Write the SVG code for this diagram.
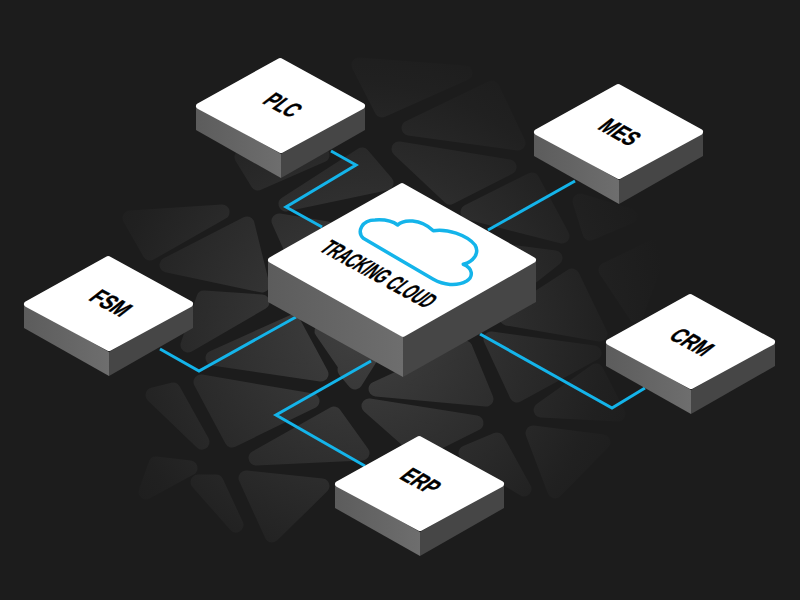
<svg xmlns="http://www.w3.org/2000/svg" width="800" height="600" viewBox="0 0 800 600">
<style>
.tri{fill:#404040;stroke:#404040;stroke-width:15;stroke-linejoin:round}
.conn{fill:none;stroke:#14b4ea;stroke-width:3;stroke-linejoin:miter}
.top{fill:#fff;stroke:#fff;stroke-width:6;stroke-linejoin:round}
.rs{fill:#464646}
.lbl{font-family:"Liberation Sans",Arial,sans-serif;font-weight:700;font-size:20px;fill:#000;stroke:#000;stroke-width:.35;text-anchor:middle}
</style>
<defs>
<radialGradient id="fade" gradientUnits="userSpaceOnUse" cx="360" cy="330" r="310">
<stop offset="0" stop-color="#1c1c1c" stop-opacity="0"/>
<stop offset=".5" stop-color="#1c1c1c" stop-opacity=".55"/>
<stop offset=".8" stop-color="#1c1c1c" stop-opacity=".88"/>
<stop offset="1" stop-color="#1c1c1c" stop-opacity="1"/>
</radialGradient>
<linearGradient id="ls" x1="0" y1="0" x2="1" y2="0"><stop offset="0" stop-color="#5c5c5c"/><stop offset="1" stop-color="#6e6e6e"/></linearGradient>
<g id="card">
<polygon points="0,0 85,48 85,72 0,24" fill="url(#ls)"/>
<polygon class="rs" points="85,48 169,0 169,24 85,72"/>
<polygon class="top" points="3,0 84,-45 166,0 85,44"/>
</g>
</defs>
<rect width="800" height="600" fill="#1c1c1c"/>
<g id="background">
<polygon class="tri" points="167,265 247,224 262,285"/>
<polygon class="tri" points="130,218 222,212 150,253"/>
<polygon class="tri" points="204,298 262,302 188,345"/>
<polygon class="tri" points="213,358 293,322 321,374"/>
<polygon class="tri" points="322,331 362,358 344,363"/>
<polygon class="tri" points="279,221 327,229 292,250"/>
<polygon class="tri" points="286,204 362,155 386,183"/>
<polygon class="tri" points="242,157 322,155 258,183"/>
<polygon class="tri" points="399,149 509,167 450,197"/>
<polygon class="tri" points="409,128 492,88 518,143"/>
<polygon class="tri" points="468,212 532,180 562,236"/>
<polygon class="tri" points="580,201 590,233 630,216"/>
<polygon class="tri" points="359,65 382,110 465,73"/>
<polygon class="tri" points="507,318 572,276 600,334"/>
<polygon class="tri" points="491,339 594,353 517,395"/>
<polygon class="tri" points="376,389 465,348 486,399"/>
<polygon class="tri" points="541,410 596,371 618,414"/>
<polygon class="tri" points="606,270 662,243 636,315"/>
<polygon class="tri" points="369,406 476,423 420,451"/>
<polygon class="tri" points="533,433 603,442 555,491"/>
<polygon class="tri" points="466,453 497,440 524,489"/>
<polygon class="tri" points="201,382 312,401 232,440"/>
<polygon class="tri" points="256,458 334,414 362,453"/>
<polygon class="tri" points="246,478 322,486 272,535"/>
<polygon class="tri" points="153,395 173,390 202,442"/>
<polygon class="tri" points="156,464 190,468 146,492"/>
<polygon class="tri" points="198,482 216,482 236,525"/>
<polygon class="tri" points="495,250 555,258 502,300"/>
<polygon class="tri" points="345,370 372,355 355,382"/>
</g>
<rect id="background-fade" width="800" height="600" fill="url(#fade)"/>
<g id="connectors">
<polyline class="conn" points="331,151 356,165 286,207 322,227"/>
<polyline class="conn" points="575,181 488,230"/>
<polyline class="conn" points="160,349 199,371 296,317"/>
<polyline class="conn" points="480,334 612,408 645,388"/>
<polyline class="conn" points="371,361 276,415 365,466"/>
</g>
<g id="node-plc"><use href="#card" x="196" y="106"/><text class="lbl" transform="matrix(.87 .45 -1 .78 283 105)" y="7" textLength="34" lengthAdjust="spacingAndGlyphs">PLC</text></g>
<g id="node-mes"><use href="#card" x="534" y="132"/><text class="lbl" transform="matrix(.87 .47 -1 .78 620 132)" y="7" textLength="38" lengthAdjust="spacingAndGlyphs">MES</text></g>
<g id="node-fsm"><use href="#card" x="24" y="304"/><text class="lbl" transform="matrix(.87 .47 -1 .78 111 303)" y="7" textLength="38" lengthAdjust="spacingAndGlyphs">FSM</text></g>
<g id="node-crm"><use href="#card" x="606" y="342"/><text class="lbl" transform="matrix(.87 .47 -1 .78 692 342)" y="7" textLength="40" lengthAdjust="spacingAndGlyphs">CRM</text></g>
<g id="node-erp"><use href="#card" x="335" y="484"/><text class="lbl" transform="matrix(.87 .47 -1 .78 421 481)" y="7" textLength="36" lengthAdjust="spacingAndGlyphs">ERP</text></g>
<g id="node-tracking-cloud">
<polygon points="268,260 403,337 403,377 268,302" fill="url(#ls)"/>
<polygon class="rs" points="403,337 536,260 536,302 403,377"/>
<polygon class="top" points="271,260 402,186 533,260 403,334"/>
<path d="M363.3,238.3C356.7,231.7 361.7,220 375,220C385,219.3 393.3,221.7 397.7,225C403.3,219.3 420,218.3 433.3,230.7C446.7,228.3 466.7,235 475,245C480,253.3 473.3,261.7 463.3,264.3C473.3,268.3 473.3,276.7 466.7,281C456.7,286.7 443.3,285 433.3,279.3Z" fill="none" stroke="#14b4ea" stroke-width="3.5" stroke-linejoin="round"/>
<text class="lbl" transform="matrix(.88 .48 -1 .78 379 274)" y="7" textLength="122" lengthAdjust="spacingAndGlyphs">TRACKING CLOUD</text>
</g>
</svg>
